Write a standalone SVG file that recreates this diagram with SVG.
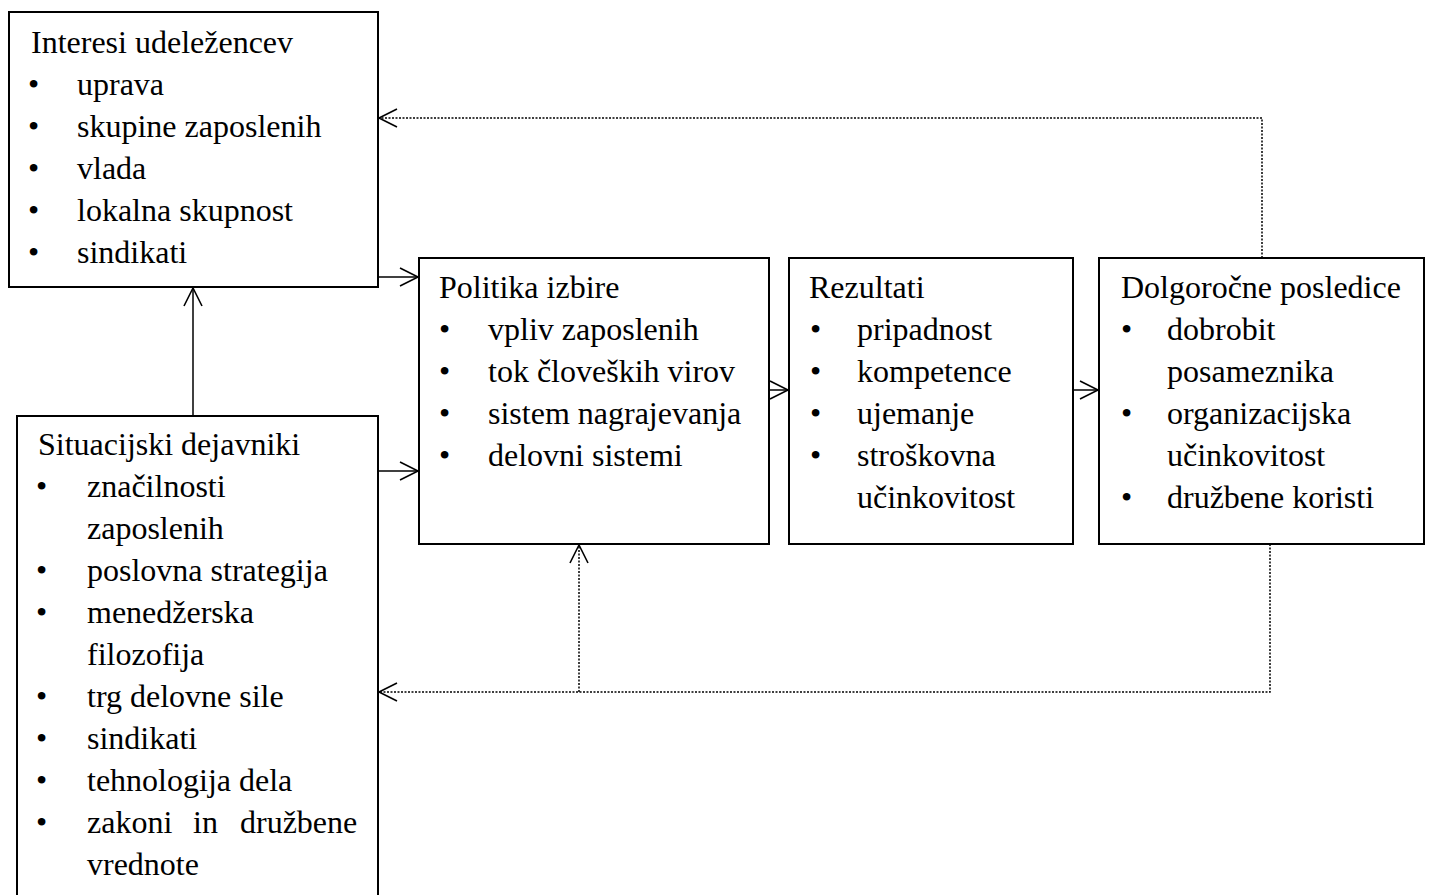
<svg xmlns="http://www.w3.org/2000/svg" width="1429" height="895" viewBox="0 0 1429 895">
<style>
.box{fill:#fff;stroke:#000;stroke-width:2}
.t{font-family:"Liberation Serif","Times New Roman",serif;font-size:32px;fill:#000}
.c{fill:none;stroke:#000;stroke-width:1.5}
.d{fill:none;stroke:#000;stroke-width:1.5;stroke-dasharray:2 1.5}
</style>
<defs>
<marker id="ah" markerUnits="userSpaceOnUse" markerWidth="24" markerHeight="24" viewBox="-20 -12 24 24" refX="0" refY="0" orient="auto">
<path d="M-18,-9 L0,0 L-18,9" fill="none" stroke="#000" stroke-width="1.6"/>
</marker>
</defs>
<rect width="1429" height="895" fill="#fff"/>
<g id="connectors">
<line class="c" x1="378" y1="277" x2="418" y2="277" marker-end="url(#ah)"/>
<line class="c" x1="378" y1="471" x2="418" y2="471" marker-end="url(#ah)"/>
<line class="c" x1="769" y1="390" x2="788" y2="390" marker-end="url(#ah)"/>
<line class="c" x1="1073" y1="390" x2="1098" y2="390" marker-end="url(#ah)"/>
<line class="c" x1="193" y1="416" x2="193" y2="288" marker-end="url(#ah)"/>
<polyline class="d" points="1262,258 1262,118 379,118" marker-end="url(#ah)"/>
<polyline class="d" points="1270,544 1270,692 379,692" marker-end="url(#ah)"/>
<line class="d" x1="579" y1="692" x2="579" y2="545" marker-end="url(#ah)"/>
</g>
<g id="interesi">
<rect class="box" x="9" y="12" width="369" height="275"/>
<text class="t" x="31" y="53">Interesi udeležencev</text>
<text class="t" x="28" y="95">•</text><text class="t" x="77" y="95">uprava</text>
<text class="t" x="28" y="137">•</text><text class="t" x="77" y="137">skupine zaposlenih</text>
<text class="t" x="28" y="179">•</text><text class="t" x="77" y="179">vlada</text>
<text class="t" x="28" y="221">•</text><text class="t" x="77" y="221">lokalna skupnost</text>
<text class="t" x="28" y="263">•</text><text class="t" x="77" y="263">sindikati</text>
</g>
<g id="situacijski">
<rect class="box" x="17" y="416" width="361" height="490"/>
<text class="t" x="38" y="455">Situacijski dejavniki</text>
<text class="t" x="36" y="497">•</text><text class="t" x="87" y="497">značilnosti</text>
<text class="t" x="87" y="539">zaposlenih</text>
<text class="t" x="36" y="581">•</text><text class="t" x="87" y="581">poslovna strategija</text>
<text class="t" x="36" y="623">•</text><text class="t" x="87" y="623">menedžerska</text>
<text class="t" x="87" y="665">filozofija</text>
<text class="t" x="36" y="707">•</text><text class="t" x="87" y="707">trg delovne sile</text>
<text class="t" x="36" y="749">•</text><text class="t" x="87" y="749">sindikati</text>
<text class="t" x="36" y="791">•</text><text class="t" x="87" y="791">tehnologija dela</text>
<text class="t" x="36" y="833">•</text><text class="t" y="833"><tspan x="87">zakoni</tspan><tspan x="193">in</tspan><tspan x="240">družbene</tspan></text>
<text class="t" x="87" y="875">vrednote</text>
</g>
<g id="politika">
<rect class="box" x="419" y="258" width="350" height="286"/>
<text class="t" x="439" y="298">Politika izbire</text>
<text class="t" x="439" y="340">•</text><text class="t" x="488" y="340">vpliv zaposlenih</text>
<text class="t" x="439" y="382">•</text><text class="t" x="488" y="382">tok človeških virov</text>
<text class="t" x="439" y="424">•</text><text class="t" x="488" y="424">sistem nagrajevanja</text>
<text class="t" x="439" y="466">•</text><text class="t" x="488" y="466">delovni sistemi</text>
</g>
<g id="rezultati">
<rect class="box" x="789" y="258" width="284" height="286"/>
<text class="t" x="809" y="298">Rezultati</text>
<text class="t" x="810" y="340">•</text><text class="t" x="857" y="340">pripadnost</text>
<text class="t" x="810" y="382">•</text><text class="t" x="857" y="382">kompetence</text>
<text class="t" x="810" y="424">•</text><text class="t" x="857" y="424">ujemanje</text>
<text class="t" x="810" y="466">•</text><text class="t" x="857" y="466">stroškovna</text>
<text class="t" x="857" y="508">učinkovitost</text>
</g>
<g id="dolgorocne">
<rect class="box" x="1099" y="258" width="325" height="286"/>
<text class="t" x="1121" y="298">Dolgoročne posledice</text>
<text class="t" x="1121" y="340">•</text><text class="t" x="1167" y="340">dobrobit</text>
<text class="t" x="1167" y="382">posameznika</text>
<text class="t" x="1121" y="424">•</text><text class="t" x="1167" y="424">organizacijska</text>
<text class="t" x="1167" y="466">učinkovitost</text>
<text class="t" x="1121" y="508">•</text><text class="t" x="1167" y="508">družbene koristi</text>
</g>
</svg>
